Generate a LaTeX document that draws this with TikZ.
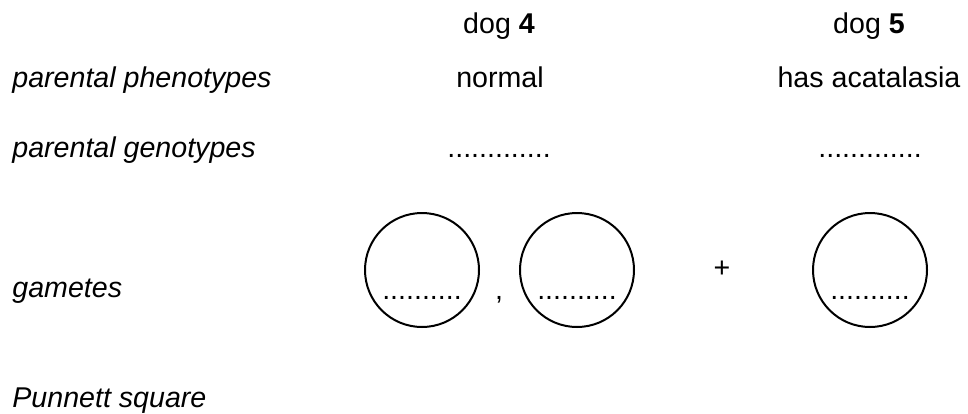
\documentclass[tikz,border=0pt]{standalone}
\usepackage{fontspec}
\setmainfont{Liberation Sans}
\usepackage{tikz}
\usetikzlibrary{positioning}

\begin{document}
\begin{tikzpicture}[x=0.5pt,y=-0.5pt,
  every node/.style={font=\fontsize{14.3pt}{17pt}\selectfont, inner sep=0pt},
  rowname/.style={anchor=base west, font=\fontsize{14.3pt}{17pt}\selectfont\itshape},
  entry/.style={anchor=base},
  gamete/.style={draw, circle, line width=1pt, minimum size=57pt} ]

		\useasboundingbox (0,0) rectangle (968,413);

		\node[entry] (dogA) at (499,33) {dog \textbf{4}};
		\node[entry] (dogB) at (869,33) {dog \textbf{5}};

		\node[rowname] (phen) at (12,87) {parental phenotypes};
		\node[entry] (phenA) at (500,87) {normal};
		\node[entry] (phenB) at (869,87) {has acatalasia};

		\node[rowname] (gen) at (12,157) {parental genotypes};
		\node[entry] (genA) at (499,157) {.............};
		\node[entry] (genB) at (870,157) {.............};

		\node[rowname] (gam) at (12,297) {gametes};
		\node[gamete] (gamA1) at (422,270) {};
		\node[gamete] (gamA2) at (577,270) {};
		\node[gamete] (gamB) at (870,270) {};
		\node[entry] (dotsA1) at ([yshift=-14.5pt]gamA1.center) {..........};
		\node[entry] (dotsA2) at ([yshift=-14.5pt]gamA2.center) {..........};
		\node[entry] (dotsB) at ([yshift=-14.5pt]gamB.center) {..........};
		\node[entry] (comma) at (499,299) {,};
		\node (plus) at (722,269) {+};

		\node[rowname] (punnett) at (12,407) {Punnett square};
	\end{tikzpicture}
\end{document}
